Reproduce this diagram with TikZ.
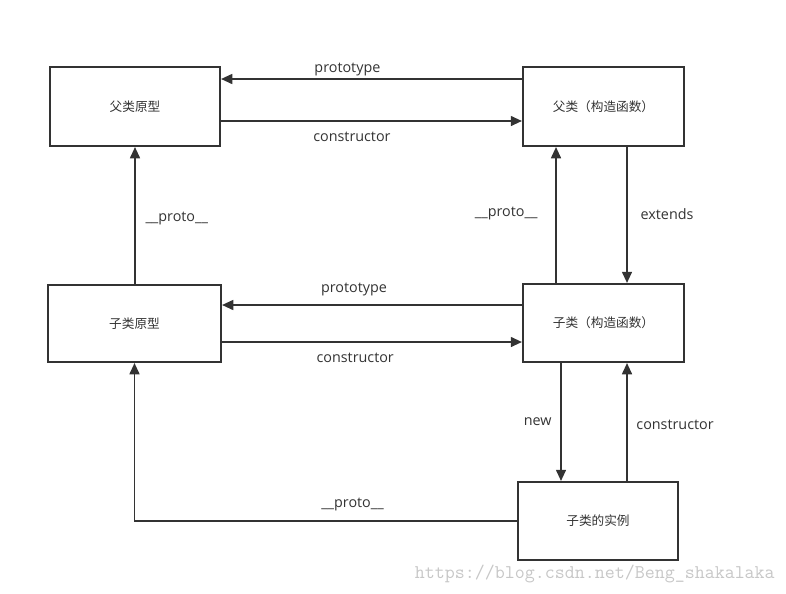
\documentclass[tikz,border=0pt]{standalone}
\usepackage{fontspec}
\setmainfont{Open Sans}
\newfontfamily\cjk{Noto Sans CJK SC}
\usetikzlibrary{arrows.meta}
\definecolor{ink}{HTML}{333333}

\begin{document}
\begin{tikzpicture}[
    x=0.025cm, y=-0.025cm,
    block/.style={rectangle, draw=ink, line width=1.4pt, minimum height=1.95cm, align=center, font=\cjk\fontsize{9}{10}\selectfont, text=ink},
    arrow/.style={-{Triangle[length=8pt, width=7pt]}, draw=ink, line width=1.4pt},
    label/.style={font=\fontsize{10.2}{12}\selectfont, text=ink, inner sep=4pt},
]
\useasboundingbox (0,0) rectangle (786,593);

% Top row
\node[block, minimum width=4.25cm, minimum height=1.975cm] (fproto) at (135, 106.5) {父类原型};
\node[block, minimum width=4.025cm, minimum height=1.975cm] (fctor) at (603.5, 106.5) {父类（构造函数）};

\draw[arrow] (fctor.west |- 0,79) -- node[label, above=-2.8pt, pos=0.58]{prototype} (fproto.east |- 0,79);
\draw[arrow] (fproto.east |- 0,121) -- node[label, below=3.5pt, pos=0.435]{constructor} (fctor.west |- 0,121);

% Middle row
\node[block, minimum width=4.325cm, minimum height=1.925cm] (cproto) at (134.5, 323.5) {子类原型};
\node[block, minimum width=4.025cm] (cctor) at (603.5, 323) {子类（构造函数）};

\draw[arrow] (cctor.west |- 0,305) -- node[label, above=1.4pt, pos=0.56]{prototype} (cproto.east |- 0,305);
\draw[arrow] (cproto.east |- 0,342) -- node[label, below=2.8pt, pos=0.444]{constructor} (cctor.west |- 0,342);

% Vertical links
\draw[arrow] (cproto.north -| 135,0) -- node[label, right=2.8pt, pos=0.48]{\_\_proto\_\_} (fproto.south -| 135,0);
\draw[arrow] (cctor.north -| 556,0) -- node[label, left=8.5pt, pos=0.51]{\_\_proto\_\_} (fctor.south -| 556,0);
\draw[arrow] (fctor.south -| 627,0) -- node[label, right=5pt, pos=0.49]{extends} (cctor.north -| 627,0);

% Instance
\node[block, minimum width=4cm] (inst) at (598, 521) {子类的实例};

\draw[arrow] (cctor.south -| 561,0) -- node[label, left=2pt, pos=0.5]{new} (inst.north -| 561,0);
\draw[arrow] (inst.north -| 627,0) -- node[label, right=2pt, pos=0.475]{constructor} (cctor.south -| 627,0);
\draw[arrow] (inst.west) -- node[label, above=2.8pt, pos=0.43]{\_\_proto\_\_} (cproto.south |- inst.west) -- (cproto.south);

% Watermark
\node[font=\ttfamily\fontsize{13.8}{16}\selectfont, text=black!22, anchor=base east, inner sep=0pt] (wm) at (775, 578) {https://blog.csdn.net/Beng\_shakalaka};

\end{tikzpicture}
\end{document}
